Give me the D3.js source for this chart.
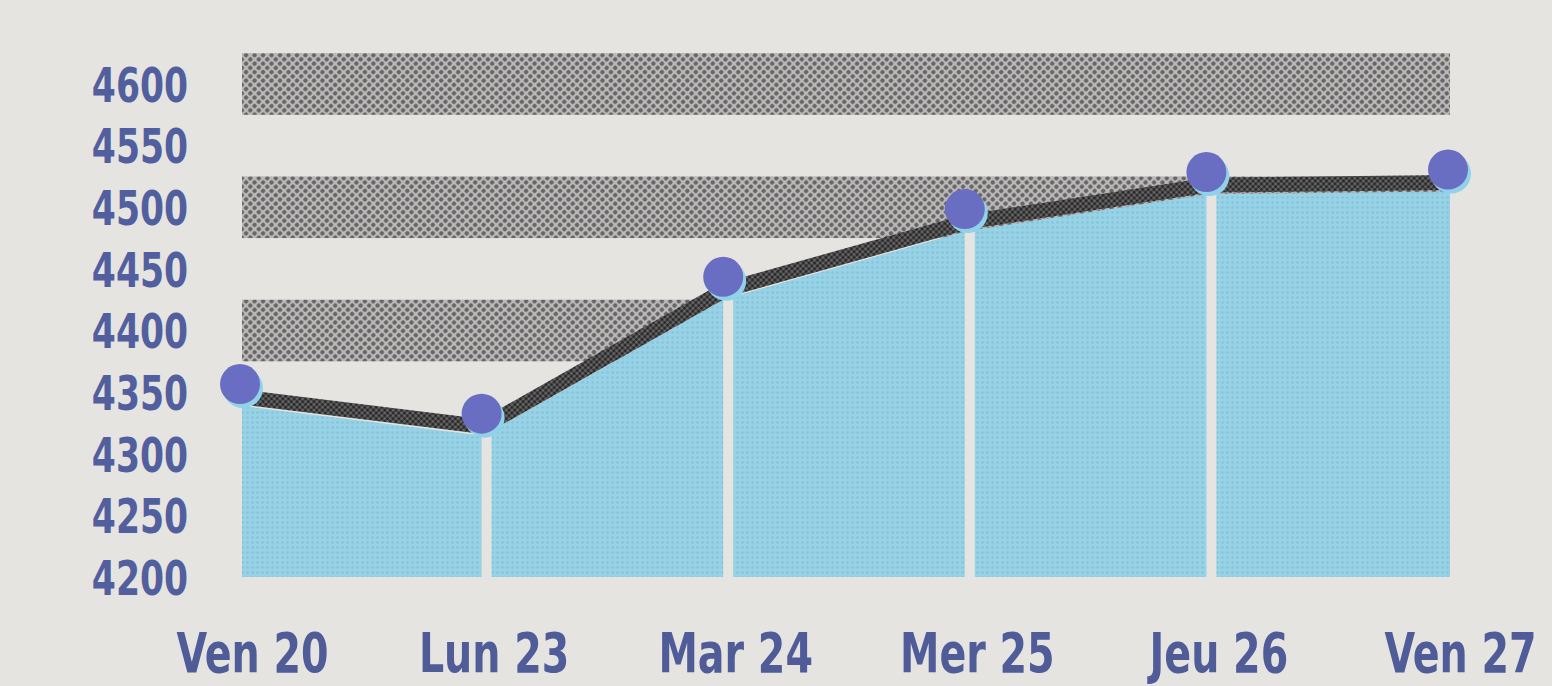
<!DOCTYPE html>
<html>
<head>
<meta charset="utf-8">
<script src="https://cdn.jsdelivr.net/npm/d3@7"></script>
<style>
  html, body { margin: 0; padding: 0; background: #e5e4e1; }
  svg { display: block; }
</style>
</head>
<body>
<svg id="chart" width="1552" height="686"></svg>
<script>
// ---- data ----
const categories = ["Ven 20", "Lun 23", "Mar 24", "Mer 25", "Jeu 26", "Ven 27"];
const values = [4346, 4322, 4433, 4488, 4518, 4520];
const yTicks = [4200, 4250, 4300, 4350, 4400, 4450, 4500, 4550, 4600];
const bandCenters = [4400, 4500, 4600];
const bandHalf = 25;

const W = 1552, H = 686;
const svg = d3.select("#chart");

svg.append("rect").attr("width", W).attr("height", H).attr("fill", "#e5e4e1");

const x = d3.scalePoint().domain(categories).range([242, 1450]);
const y = d3.scaleLinear().domain([4200, 4600]).range([577, 84]);

const data = categories.map((c, i) => ({ c, v: values[i] }));

// halftone-like patterns
const defs = svg.append("defs");
const pg = defs.append("pattern").attr("id", "greyDots")
  .attr("width", 6).attr("height", 6).attr("patternUnits", "userSpaceOnUse")
  .attr("patternTransform", "rotate(45)");
pg.append("rect").attr("width", 6).attr("height", 6).attr("fill", "#bcb9b9");
pg.append("circle").attr("cx", 3).attr("cy", 3).attr("r", 2.2).attr("fill", "#686567");

const pb = defs.append("pattern").attr("id", "blueDots")
  .attr("width", 5).attr("height", 5).attr("patternUnits", "userSpaceOnUse");
pb.append("rect").attr("width", 5).attr("height", 5).attr("fill", "#98d2e6");
pb.append("circle").attr("cx", 2.5).attr("cy", 2.5).attr("r", 1.3).attr("fill", "#84c4da");

const pl = defs.append("pattern").attr("id", "lineDots")
  .attr("width", 4).attr("height", 4).attr("patternUnits", "userSpaceOnUse")
  .attr("patternTransform", "rotate(45)");
pl.append("rect").attr("width", 4).attr("height", 4).attr("fill", "#6f6d6e");
pl.append("circle").attr("cx", 2).attr("cy", 2).attr("r", 1.7).attr("fill", "#262527");

// grey bands
const [x0, x1] = x.range();
svg.append("g").selectAll("rect").data(bandCenters).join("rect")
  .attr("x", x0)
  .attr("width", x1 - x0)
  .attr("y", d => y(d + bandHalf))
  .attr("height", d => y(d - bandHalf) - y(d + bandHalf))
  .attr("fill", "url(#greyDots)");

// area
const area = d3.area()
  .x(d => x(d.c))
  .y0(y(4200))
  .y1(d => y(d.v) + 9);
svg.append("path").datum(data)
  .attr("d", area)
  .attr("fill", "url(#blueDots)");

// pale gaps between area segments
svg.append("g").selectAll("line").data(data.slice(1, -1)).join("line")
  .attr("x1", d => x(d.c) + 3).attr("x2", d => x(d.c) + 3)
  .attr("y1", d => y(d.v) + 6).attr("y2", y(4200) + 2)
  .attr("stroke", "#e5e4e1").attr("stroke-width", 10);

// line
const line = d3.line().x(d => x(d.c)).y(d => y(d.v));
svg.append("path").datum(data)
  .attr("d", line)
  .attr("fill", "none")
  .attr("stroke", "url(#lineDots)")
  .attr("stroke-width", 15)
  .attr("stroke-linejoin", "round");

// dots
const dots = svg.append("g");
dots.selectAll("circle.fringe").data(data).join("circle")
  .attr("class", "fringe")
  .attr("cx", d => x(d.c) + 1).attr("cy", d => y(d.v) - 9)
  .attr("r", 20).attr("fill", "#8fd2ea");
dots.selectAll("circle.dot").data(data).join("circle")
  .attr("class", "dot")
  .attr("cx", d => x(d.c) - 2).attr("cy", d => y(d.v) - 13)
  .attr("r", 20).attr("fill", "#6a6ec2");

const fontFam = "'DejaVu Sans Condensed', 'Liberation Sans Narrow', sans-serif";

// y axis
const yAxis = d3.axisLeft(y).tickValues(yTicks).tickSize(0).tickPadding(0).tickFormat(d3.format("d"));
const gy = svg.append("g").attr("transform", "translate(188,0)").call(yAxis);
gy.select(".domain").remove();
gy.selectAll("text")
  .attr("fill", "#525f9e")
  .attr("transform", "scale(0.8,1)")
  .style("font-family", fontFam)
  .style("font-weight", "bold")
  .style("font-size", "48px")
  .attr("dy", "0.36em");

// x axis
const xAxis = d3.axisBottom(x).tickSize(0).tickPadding(0);
const gx = svg.append("g").attr("transform", "translate(10,630)").call(xAxis);
gx.select(".domain").remove();
gx.selectAll("text")
  .attr("fill", "#4f5c98")
  .attr("transform", "scale(0.8,1)")
  .style("font-family", fontFam)
  .style("font-weight", "bold")
  .style("font-size", "55px")
  .attr("dy", "0.76em");
</script>
</body>
</html>
